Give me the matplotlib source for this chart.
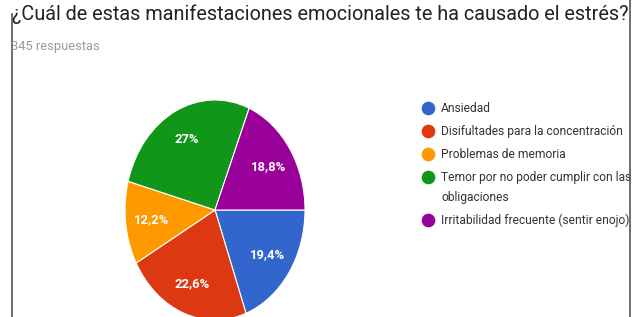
import matplotlib.pyplot as plt
from matplotlib import font_manager
from matplotlib.lines import Line2D
from matplotlib.transforms import Bbox, TransformedBbox

W, H = 636, 317

title = "¿Cuál de estas manifestaciones emocionales te ha causado el estrés?"
subtitle = "345 respuestas"
categories = ["Ansiedad",
              "Disifultades para la concentración",
              "Problemas de memoria",
              "Temor por no poder cumplir con las\nobligaciones",
              "Irritabilidad frecuente (sentir enojo)"]
values = [19.4, 22.6, 12.2, 27.0, 18.8]
colors = ["#3366cc", "#dc3912", "#ff9900", "#109618", "#990099"]

names = {f.name for f in font_manager.fontManager.ttflist}
if "Liberation Sans Narrow" in names:
    font = "Liberation Sans Narrow"
    scale = 1.15
else:
    font = "Roboto"
    scale = 1.0
plt.rcParams['font.family'] = [font, 'DejaVu Sans']


def fx(x):
    return x / W


def fy(y):
    return 1 - y / H


fig = plt.figure(figsize=(W / 100, H / 100), dpi=100)

# pie is squeezed horizontally like the screenshot
ax = fig.add_axes([fx(125), fy(320), fx(180), 220 / H])


def pct(p):
    s = "%.1f" % p
    if s.endswith(".0"):
        s = s[:-2]
    return s.replace(".", ",") + "%"


wedges, texts, autotexts = ax.pie(values, colors=colors, startangle=0, counterclock=False,
                                  autopct=pct, pctdistance=0.71,
                                  wedgeprops=dict(edgecolor='white', linewidth=0.8),
                                  textprops=dict(color='white', fontsize=9.4 * scale, fontweight='bold'))
ax.set_aspect('auto')
ax.set_xlim(-1, 1)
ax.set_ylim(-1, 1)

fig.text(fx(12), fy(20), title, fontsize=14.3 * scale, color='#222222', va='baseline')
fig.text(fx(11), fy(50), subtitle, fontsize=9.3 * scale, color='#9a9a9a', va='baseline')

# legend drawn by hand on a pixel overlay: marker sits on the first line of each entry
lay = fig.add_axes([0, 0, 1, 1])
lay.set_xlim(0, W)
lay.set_ylim(H, 0)
lay.axis('off')
clip = TransformedBbox(Bbox([[0, 0], [fx(630.5), 1]]), fig.transFigure)

y = 108
for name, c in zip(categories, colors):
    lay.scatter([428], [y], s=78, color=c, zorder=3)
    for k, line in enumerate(name.split("\n")):
        if k > 0:
            y += 20
        t = lay.text(441, y, line, fontsize=8.65 * scale, color='#333333', va='center')
        t.set_clip_box(clip)
        t.set_clip_on(True)
    y += 23

# screenshot frame lines
fig.add_artist(Line2D([fx(12), fx(12)], [fy(14), 0], color='#555555', lw=1.2))
fig.add_artist(Line2D([fx(630), fx(630)], [1, 0], color='#555555', lw=1.2))

fig.savefig("out.png", dpi=100)
